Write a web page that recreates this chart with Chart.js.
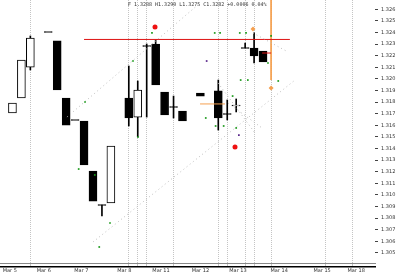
<!DOCTYPE html>
<html>
<head>
<meta charset="utf-8">
<script src="https://cdn.jsdelivr.net/npm/chart.js@4.4.0/dist/chart.umd.min.js"></script>
<style>
  body { margin: 0; background: #fff; }
  #wrap { position: relative; width: 400px; height: 275px; }
  #hdr { position: absolute; top: 1px; left: 128px; font: 5px "DejaVu Sans Mono", monospace; color: #333; white-space: nowrap; }
</style>
</head>
<body>
<div id="wrap">
  <canvas id="chart"></canvas>
  <div id="hdr">F 1.3288 H1.3290 L1.3275 C1.3282 +0.0006 0.04%</div>
</div>
<script>
// candles (x = bar slot)
const candleX = [1, 2, 3, 5, 6, 7, 8, 9, 10, 11, 12, 14, 15, 16, 17, 18, 19, 20, 22, 24, 25, 26, 27, 28, 29];
const openP  = [1.31706, 1.31835, 1.32102, 1.32404, 1.32327, 1.31835, 1.31646, 1.31637, 1.31206, 1.30913, 1.30930, 1.31835, 1.31671, 1.32283, 1.32301, 1.31887, 1.31758, 1.31723, 1.31878, 1.31896, 1.31697, 1.31766, 1.32266, 1.32266, 1.32240];
const highP  = [1.31792, 1.32163, 1.32370, 1.32404, 1.32327, 1.31835, 1.31646, 1.31637, 1.31206, 1.30913, 1.31421, 1.32111, 1.31982, 1.32301, 1.32335, 1.31887, 1.31852, 1.31723, 1.31878, 1.31990, 1.31818, 1.31827, 1.32309, 1.32396, 1.32240];
const lowP   = [1.31706, 1.31835, 1.32077, 1.32404, 1.31904, 1.31602, 1.31646, 1.31258, 1.30947, 1.30818, 1.30930, 1.31594, 1.31499, 1.31671, 1.31947, 1.31689, 1.31663, 1.31637, 1.31852, 1.31559, 1.31646, 1.31715, 1.32266, 1.32137, 1.32146];
const closeP = [1.31792, 1.32163, 1.32352, 1.32404, 1.31904, 1.31602, 1.31646, 1.31258, 1.30947, 1.30913, 1.31421, 1.31663, 1.31904, 1.32283, 1.31947, 1.31689, 1.31758, 1.31637, 1.31852, 1.31663, 1.31697, 1.31775, 1.32266, 1.32197, 1.32146];

const yTicks = [1.305, 1.306, 1.307, 1.308, 1.309, 1.310, 1.311, 1.312, 1.313, 1.314, 1.315, 1.316, 1.317, 1.318, 1.319, 1.320, 1.321, 1.322, 1.323, 1.324, 1.325, 1.326];
const sepX = [3, 14, 15, 16, 19, 24, 25, 27, 28, 30, 36, 39];
const labelX = [0.7, 4.5, 8.7, 13.5, 17.6, 22, 26.2, 30.8, 35.6, 39.4];
const xLabels = ['Mar 5', 'Mar 6', 'Mar 7', 'Mar 8', 'Mar 11', 'Mar 12', 'Mar 13', 'Mar 14', 'Mar 15', 'Mar 18'];

// levels and trend lines
const redLevel = [{x: 9, y: 1.32340}, {x: 32, y: 1.32340}];
const redShort = [{x: 28.9, y: 1.32223}, {x: 29.9, y: 1.32223}];
const orangeV = [{x: 29.9, y: 1.32680}, {x: 29.9, y: 1.31990}];
const orangeH = [{x: 21.96, y: 1.31784}, {x: 24.75, y: 1.31784}];
const trendA = [{x: 10.0, y: 1.30594}, {x: 32.57, y: 1.31990}];
const trendB = [{x: 7.09, y: 1.31671}, {x: 21.96, y: 1.32654}];
const trendC = [{x: 27.88, y: 1.32396}, {x: 31.79, y: 1.32232}];
const trendE = [{x: 23.97, y: 1.31965}, {x: 28.1, y: 1.31534}];
const trendF = [{x: 25.08, y: 1.31792}, {x: 28.88, y: 1.31577}];

const greenDots = [
  {x: 14.47, y: 1.32154}, {x: 16.59, y: 1.32396}, {x: 9.11, y: 1.31801}, {x: 15.03, y: 1.31499},
  {x: 23.6, y: 1.32396}, {x: 24.2, y: 1.32396}, {x: 26.4, y: 1.32396}, {x: 27.1, y: 1.32396},
  {x: 29.9, y: 1.32370}, {x: 29.55, y: 1.32137}, {x: 26.5, y: 1.31990}, {x: 27.3, y: 1.31990},
  {x: 30.7, y: 1.31982}, {x: 25.6, y: 1.31852}, {x: 22.6, y: 1.31663}, {x: 23.7, y: 1.31594},
  {x: 24.6, y: 1.31594}, {x: 26, y: 1.31577}, {x: 8.4, y: 1.31223}, {x: 10.2, y: 1.31172},
  {x: 11.9, y: 1.30758}, {x: 10.7, y: 1.30551}
];
const purpleDots = [{x: 22.7, y: 1.32154}, {x: 26.3, y: 1.31516}];
const redMarks = [{x: 16.93, y: 1.32447}, {x: 25.87, y: 1.31413}];
const orangeMarks = [{x: 29.9, y: 1.31921}, {x: 27.88, y: 1.32430}];

const xMin = -0.391, xMax = 41.51;
const yMin = 1.30413, yMax = 1.3268;

let bodies = [], bodyFill = [], wicks = [];
for (let i = 0; i < candleX.length; i++) {
    const o = openP[i], c = closeP[i];
    let top = Math.max(o, c), bot = Math.min(o, c);
    if (top - bot < 0.00005) { top = o + 0.00004; bot = o - 0.00004; }
    bodies.push({x: candleX[i], y: [bot, top]});
    bodyFill.push(c > o ? '#ffffff' : '#000000');
    if (highP[i] > Math.max(o, c)) wicks.push({x: candleX[i], y: [Math.max(o, c), highP[i]]});
    if (lowP[i] < Math.min(o, c)) wicks.push({x: candleX[i], y: [lowP[i], Math.min(o, c)]});
}

function seg(data, colour, dash) {
    return {type: 'line', data: data, borderColor: colour, borderWidth: 1, borderDash: dash || [],
            pointRadius: 0, fill: false, order: 0};
}
function dots(data, colour, style, r) {
    return {type: 'scatter', data: data, backgroundColor: colour, borderColor: colour, borderWidth: 0,
            pointStyle: style, pointRadius: r, order: -1};
}
// keep the plot area flush with the canvas edges
function noPad(s) {
    s.paddingLeft = 0; s.paddingRight = 0; s.paddingTop = 0; s.paddingBottom = 0;
}

const grey = '#bdbdbd';

new Chart('chart', {
    type: 'bar',
    data: {
        datasets: [
            seg(trendA, grey, [1, 3]),
            seg(trendB, grey, [1, 3]),
            seg(trendC, grey, [1, 3]),
            seg(trendE, grey, [1, 3]),
            seg(trendF, grey, [1, 3]),
            seg(redLevel, '#dd1111'),
            seg(redShort, '#dd1111'),
            seg(orangeV, '#f5a050'),
            seg(orangeH, '#f5a050'),
            {data: wicks, backgroundColor: '#000', barThickness: 1, grouped: false, order: 2},
            {data: bodies, backgroundColor: bodyFill, borderColor: '#000', borderWidth: 1,
             borderSkipped: false, barThickness: 8, grouped: false, order: 1},
            dots(greenDots, '#1a9a1a', 'rect', 1.2),
            dots(purpleDots, '#552288', 'rect', 1.2),
            dots(redMarks, '#ee1111', 'circle', 2.5),
            dots(orangeMarks, '#f5a050', 'rectRot', 2.5)
        ]
    },
    options: {
        responsive: true,
        maintainAspectRatio: false,
        animation: false,
        layout: {padding: 0, autoPadding: false},
        plugins: {legend: {display: false}, tooltip: {enabled: false}},
        scales: {
            x: {
                type: 'linear', min: xMin, max: xMax, offset: false, weight: 0,
                afterBuildTicks: s => { s.ticks = sepX.map(v => ({value: v})); },
                afterFit: s => { s.height = 4; noPad(s); },
                ticks: {display: false},
                grid: {color: '#c4c4c4', offset: false, drawTicks: true, tickLength: 4},
                border: {color: '#888', dash: [1, 1]}
            },
            x2: {
                type: 'linear', position: 'bottom', min: xMin, max: xMax, offset: false, weight: 1,
                afterBuildTicks: s => { s.ticks = labelX.map(v => ({value: v})); },
                afterFit: s => { s.height = 8; noPad(s); },
                ticks: {
                    display: true, autoSkip: false, maxRotation: 0, minRotation: 0, padding: 1, color: '#333',
                    font: {family: 'DejaVu Sans', size: 5, lineHeight: 1},
                    callback: (v, i) => xLabels[i]
                },
                grid: {display: true, drawOnChartArea: false, drawTicks: false},
                border: {color: '#000', width: 1.5}
            },
            y: {
                type: 'linear', position: 'right', min: yMin, max: yMax,
                afterBuildTicks: s => { s.ticks = yTicks.map(v => ({value: v})); },
                afterFit: s => { s.width = 25; noPad(s); },
                ticks: {
                    padding: 3, color: '#333',
                    font: {family: 'DejaVu Sans', size: 5},
                    callback: v => v.toFixed(3)
                },
                grid: {drawOnChartArea: false, drawTicks: true, tickLength: 3, color: '#444'},
                border: {display: false}
            }
        }
    }
});
</script>
</body>
</html>
